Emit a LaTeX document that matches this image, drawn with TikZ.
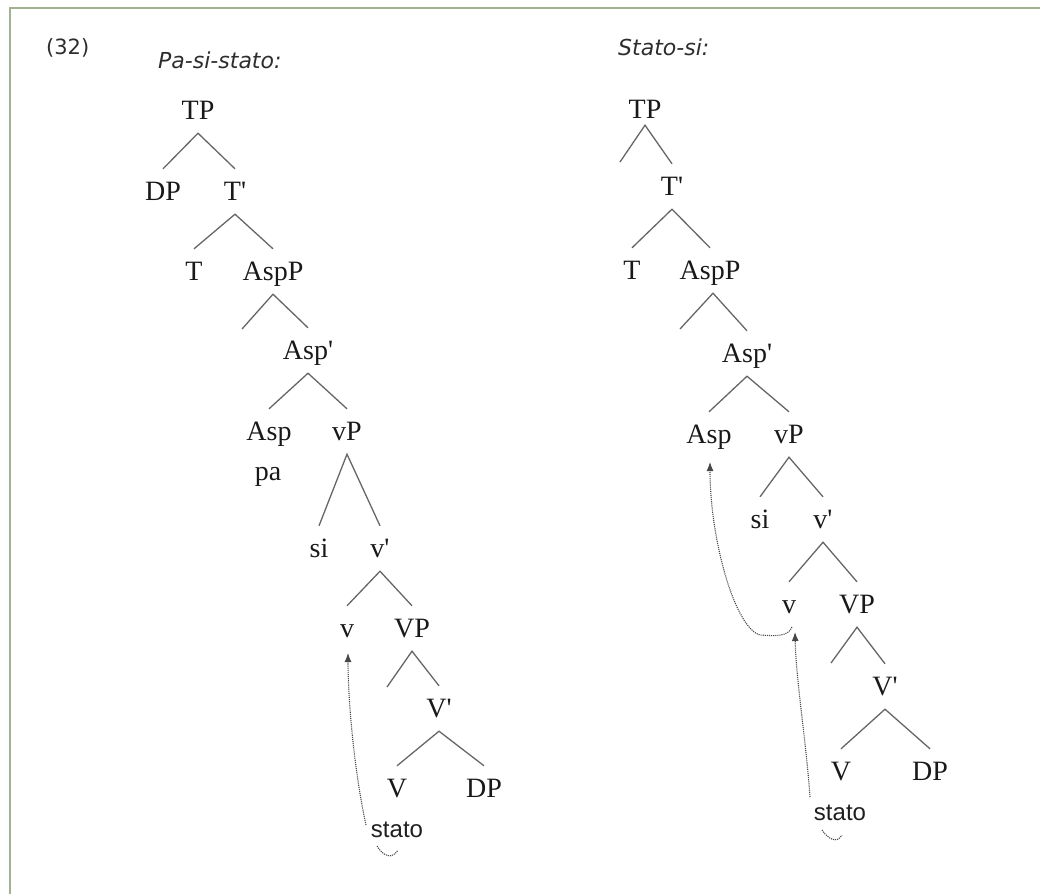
\documentclass[tikz,border=0pt]{standalone}
\usepackage{fontspec}
\setmainfont{Liberation Serif}
\newfontfamily\hdrfont{DejaVu Sans}
\newfontfamily\stfont{Liberation Sans}
\usetikzlibrary{calc,arrows.meta}
\newcommand\labfont{\fontsize{28}{30}\selectfont}
\newcommand\pr{\textquotesingle}
\definecolor{framecol}{RGB}{160,178,146}
\definecolor{hdrcol}{RGB}{45,45,45}
\tikzset{
  lab/.style={anchor=base, inner sep=0pt, text height=31pt, text depth=14pt, font=\labfont, text=black!90},
  labplain/.style={anchor=base, inner sep=0pt, font=\labfont, text=black!90},
  stlab/.style={anchor=base, inner sep=0pt, font=\stfont\fontsize{24}{26}\selectfont, text=black!88},
  hdr/.style={anchor=base west, inner sep=0pt, text=hdrcol},
  br/.style={draw=black!60, line width=1.3pt},
  mv/.style={draw=black!72, densely dotted, line width=1.1pt},
  mvarrow/.style={mv, -{Latex[length=9pt,width=7pt]}},
  framestyle/.style={draw=framecol, line width=1.6pt}
}
\begin{document}
\begin{tikzpicture}[x=1pt,y=-1pt]
\useasboundingbox (0,0) rectangle (1040,894);
\draw[framestyle] (10,894) -- (10,8) -- (1040,8);

% headers
\node[hdr, font=\hdrfont\fontsize{21}{23}\selectfont] (num) at (46,54) {(32)};
\node[hdr, font=\hdrfont\itshape\fontsize{22}{24}\selectfont] (hL) at (158,68) {Pa-si-stato:};
\node[hdr, font=\hdrfont\itshape\fontsize{22}{24}\selectfont] (hR) at (618,55) {Stato-si:};

% ---------- left tree ----------
\node[lab] (LTP) at (198,119) {TP};
\node[lab] (LDP) at (163,200) {DP};
\node[lab] (LTb) at (235,200) {T\pr};
\node[lab] (LT) at (194,280) {T};
\node[lab] (LAspP) at (273,280) {AspP};
\node[lab] (LAspb) at (308,359) {Asp\pr};
\node[lab] (LAsp) at (269,440) {Asp};
\node[lab] (LvP) at (347,440) {vP};
\node[labplain] (Lpa) at (268,480) {pa};
\node[lab] (Lsi) at (319,557) {si};
\node[lab] (Lvb) at (380,557) {v\pr};
\node[lab] (Lv) at (347,637) {v};
\node[lab] (LVP) at (412,637) {VP};
\node[lab] (LVb) at (439,717) {V\pr};
\node[lab] (LV) at (397,797) {V};
\node[lab] (LDPb) at (484,797) {DP};
\node[stlab] (Lstato) at (397,837) {stato};
\coordinate (LAspPe) at (242,329);
\coordinate (LVPe) at (387,687);

\draw[br] (LDP.north) -- (LTP.south) -- (LTb.north);
\draw[br] (LT.north) -- (LTb.south) -- (LAspP.north);
\draw[br] (LAspPe) -- (LAspP.south) -- (LAspb.north);
\draw[br] (LAsp.north) -- (LAspb.south) -- (LvP.north);
\draw[br] (Lsi.north) -- (LvP.south) -- (Lvb.north);
\draw[br] (Lv.north) -- (Lvb.south) -- (LVP.north);
\draw[br] (LVPe) -- (LVP.south) -- (LVb.north);
\draw[br] (LV.north) -- (LVb.south) -- (LDPb.north);

% movement: stato -> v
\draw[mvarrow] ($(Lstato.base)+(-31,-12)$) .. controls ($(Lstato.base)+(-43,-67)$) and ($(Lv.base)+(1,63)$) .. ($(Lv.base)+(1,16)$);
\draw[mv] ($(Lstato.base)+(-20,9)$) .. controls ($(Lstato.base)+(-14,19)$) and ($(Lstato.base)+(-5,23)$) .. ($(Lstato.base)+(1,13)$);

% ---------- right tree ----------
\node[lab] (RTP) at (645,118) {TP};
\node[lab] (RTb) at (672,195) {T\pr};
\node[lab] (RT) at (632,279) {T};
\node[lab] (RAspP) at (710,279) {AspP};
\node[lab] (RAspb) at (747,362) {Asp\pr};
\node[lab] (RAsp) at (709,443) {Asp};
\node[lab] (RvP) at (789,443) {vP};
\node[lab] (Rsi) at (760,528) {si};
\node[lab] (Rvb) at (823,528) {v\pr};
\node[lab] (Rv) at (789,613) {v};
\node[lab] (RVP) at (857,613) {VP};
\node[lab] (RVb) at (885,695) {V\pr};
\node[lab] (RV) at (841,780) {V};
\node[lab] (RDP) at (930,780) {DP};
\node[stlab] (Rstato) at (840,820) {stato};
\coordinate (RTPe) at (620,162);
\coordinate (RAspPe) at (680,329);
\coordinate (RVPe) at (831,663);

\draw[br] (RTPe) -- ($(RTP.south)+(0,-7)$) -- (RTb.north);
\draw[br] (RT.north) -- (RTb.south) -- (RAspP.north);
\draw[br] (RAspPe) -- ($(RAspP.south)+(3,0)$) -- (RAspb.north);
\draw[br] (RAsp.north) -- (RAspb.south) -- (RvP.north);
\draw[br] (Rsi.north) -- (RvP.south) -- (Rvb.north);
\draw[br] (Rv.north) -- (Rvb.south) -- (RVP.north);
\draw[br] (RVPe) -- (RVP.south) -- (RVb.north);
\draw[br] (RV.north) -- (RVb.south) -- (RDP.north);

% movement: stato -> v
\draw[mvarrow] ($(Rstato.base)+(-30,-23)$) .. controls ($(Rstato.base)+(-34,-80)$) and ($(Rv.base)+(7,67)$) .. ($(Rv.base)+(6,19)$);
\draw[mv] ($(Rstato.base)+(-18,10)$) .. controls ($(Rstato.base)+(-12,19)$) and ($(Rstato.base)+(-3,24)$) .. ($(Rstato.base)+(2,15)$);
% movement: v -> Asp
\draw[mvarrow] ($(Rv.base)+(3,14)$) .. controls ($(Rv.base)+(-1,24)$) and ($(Rv.base)+(-14,23)$) .. ($(Rv.base)+(-29,22)$)
  .. controls ($(Rv.base)+(-54,15)$) and ($(RAsp.base)+(1,97)$) .. ($(RAsp.base)+(1,19)$);
\end{tikzpicture}
\end{document}
